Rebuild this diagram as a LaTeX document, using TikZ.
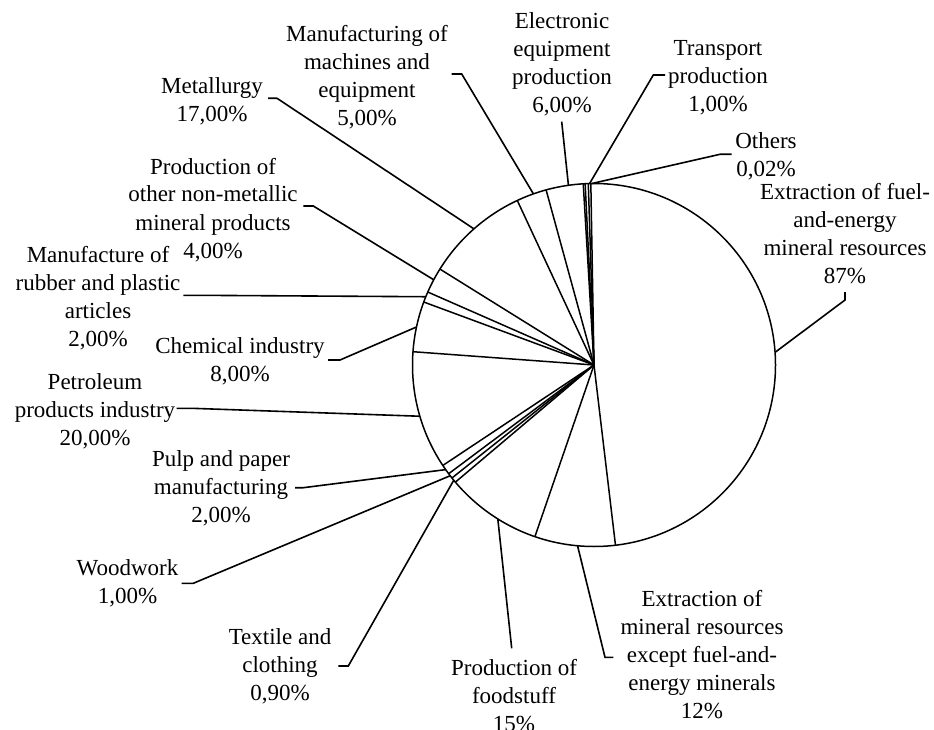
\documentclass[tikz,border=0pt]{standalone}
\usepackage{fontspec}
\setmainfont{Liberation Serif}
\tikzset{
    lbl/.style={align=center, inner sep=0pt, anchor=base, font=\fontsize{23}{28}\selectfont},
    lead/.style={line width=1.6pt},
    wedge/.style={line width=1.5pt},
}

\begin{document}
\begin{tikzpicture}[x=1pt, y=-1pt]
    \useasboundingbox (0,0) rectangle (934,730);

    \coordinate (o) at (594,365);
    \draw[wedge] (o) circle[radius=181.5pt];
    \foreach \a in {91,91.8,92.8,93.4,105.3,115,148.1,156.3,159.7,175.8,213.6,216.8,218.5,220.2,251,276.8}
      \draw[wedge] (o) -- ++(-\a:181.5);

    \path (o) ++(-4:181.5) coordinate (cFue);
    \path (o) ++(-90.7:181.5) coordinate (cOth);
    \path (o) ++(-91.4:181.5) coordinate (cTra);
    \path (o) ++(-98.1:181.5) coordinate (cEle);
    \path (o) ++(-109.5:181.5) coordinate (cMac);
    \path (o) ++(-131.4:181.5) coordinate (cMet);
    \path (o) ++(-152:181.5) coordinate (cNon);
    \path (o) ++(-157.9:181.5) coordinate (cRub);
    \path (o) ++(-167.9:181.5) coordinate (cChe);
    \path (o) ++(-196.4:181.5) coordinate (cPet);
    \path (o) ++(-215.2:181.5) coordinate (cPul);
    \path (o) ++(-217.6:181.5) coordinate (cWoo);
    \path (o) ++(-219.4:181.5) coordinate (cTex);
    \path (o) ++(-238:181.5) coordinate (cFoo);
    \path (o) ++(-264.8:181.5) coordinate (cExc);

    \node[lbl] (lMet) at (212,122) {Metallurgy\\17,00\%};
    \node[lbl] (lMac) at (367,126) {Manufacturing of\\machines and\\equipment\\5,00\%};
    \node[lbl] (lEle) at (562,113) {Electronic\\equipment\\production\\6,00\%};
    \node[lbl] (lTra) at (718,112) {Transport\\production\\1,00\%};
    \node[lbl] (lOth) at (766,177) {Others\\0,02\%};
    \node[lbl] (lFue) at (845,283) {Extraction of fuel-\\and-energy\\mineral resources\\87\%};
    \node[lbl] (lNon) at (213,258) {Production of\\other non-metallic\\mineral products\\4,00\%};
    \node[lbl] (lRub) at (98,346.7) {Manufacture of\\rubber and plastic\\articles\\2,00\%};
    \node[lbl] (lChe) at (240,381.7) {Chemical industry\\8,00\%};
    \node[lbl] (lPet) at (95,445) {Petroleum\\products industry\\20,00\%};
    \node[lbl] (lPul) at (221,522) {Pulp and paper\\manufacturing\\2,00\%};
    \node[lbl] (lWoo) at (127.5,603) {Woodwork\\1,00\%};
    \node[lbl] (lTex) at (280,700) {Textile and\\clothing\\0,90\%};
    \node[lbl] (lFoo) at (514,731) {Production of\\foodstuff\\15\%};
    \node[lbl] (lExc) at (702,718.3) {Extraction of\\mineral resources\\except fuel-and-\\energy minerals\\12\%};

    \coordinate (sMet) at (268,98.3);
    \coordinate (sMac) at (451.7,74);
    \coordinate (sEle) at (561.7,121.7);
    \coordinate (sTra) at (665,75);
    \coordinate (sOth) at (731.7,154.3);
    \coordinate (sFue) at (845,292);
    \coordinate (sNon) at (303.3,206);
    \coordinate (sRub) at (183.3,295.3);
    \coordinate (sChe) at (328,360);
    \coordinate (sPet) at (176.7,408.3);
    \coordinate (sPul) at (295,487.7);
    \coordinate (sWoo) at (181.7,583.3);
    \coordinate (sTex) at (338.3,666);
    \coordinate (sFoo) at (511.7,648.3);
    \coordinate (sExc) at (613.3,657.3);

    \draw[lead] (sMet) -- ++(9,0) -- (cMet);
    \draw[lead] (sMac) -- ++(10,0) -- (cMac);
    \draw[lead] (sEle) -- (cEle);
    \draw[lead] (sTra) -- ++(-11.7,0) -- (cTra);
    \draw[lead] (sOth) -- ++(-11.7,0) -- (cOth);
    \draw[lead] (sFue) -- ++(0,8) -- (cFue);
    \draw[lead] (sNon) -- ++(10,0) -- (cNon);
    \draw[lead] (sRub) -- ++(13.7,0) -- (cRub);
    \draw[lead] (sChe) -- ++(12,0) -- (cChe);
    \draw[lead] (sPet) -- ++(15,0) -- (cPet);
    \draw[lead] (sPul) -- ++(8.3,0) -- (cPul);
    \draw[lead] (sWoo) -- ++(11.6,0) -- (cWoo);
    \draw[lead] (sTex) -- ++(10,0) -- (cTex);
    \draw[lead] (sFoo) -- (cFoo);
    \draw[lead] (sExc) -- ++(-8.3,0) -- (cExc);
\end{tikzpicture}
\end{document}
